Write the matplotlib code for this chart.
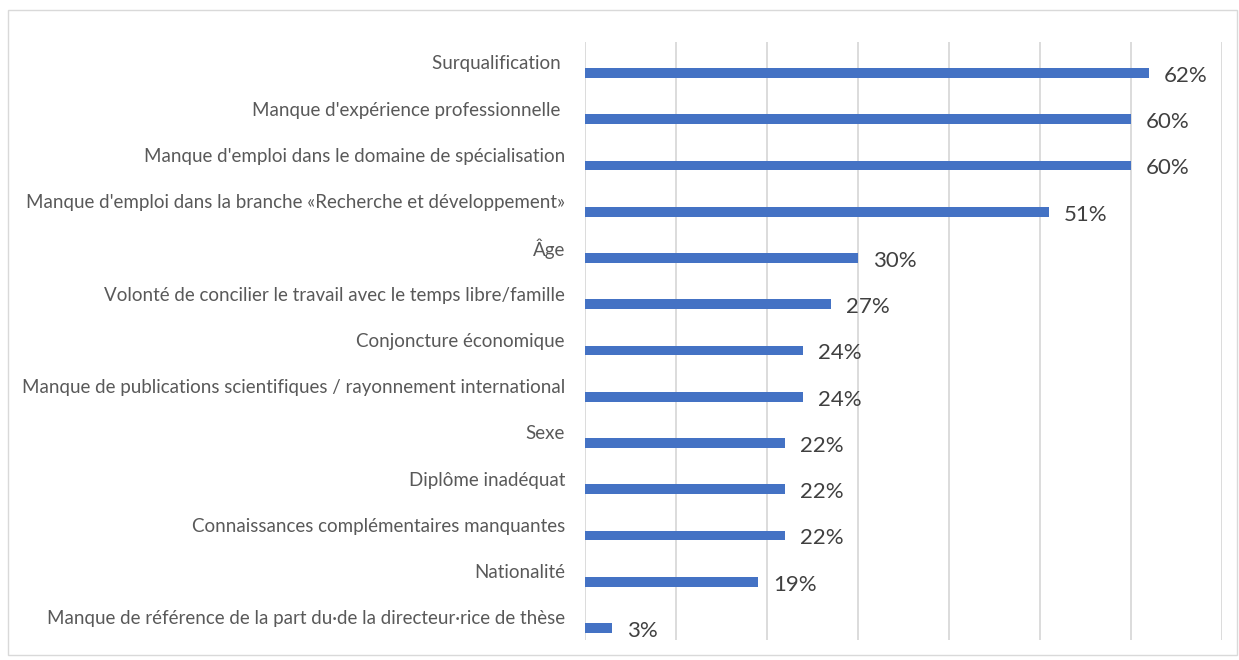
import matplotlib.pyplot as plt
import numpy as np
from matplotlib.patches import Rectangle

plt.rcParams['font.family'] = ['Lato', 'DejaVu Sans']

categories = [
    "Surqualification ",
    "Manque d'expérience professionnelle ",
    "Manque d'emploi dans le domaine de spécialisation",
    "Manque d'emploi dans la branche «Recherche et développement»",
    "Âge",
    "Volonté de concilier le travail avec le temps libre/famille",
    "Conjoncture économique",
    "Manque de publications scientifiques / rayonnement international",
    "Sexe",
    "Diplôme inadéquat",
    "Connaissances complémentaires manquantes",
    "Nationalité",
    "Manque de référence de la part du·de la directeur·rice de thèse",
]
values = [62, 60, 60, 51, 30, 27, 24, 24, 22, 22, 22, 19, 3]
x_ticks = [0, 10, 20, 30, 40, 50, 60, 70]

bar_color = "#4472C4"

fig = plt.figure(figsize=(12.39, 6.60), dpi=100)
ax = fig.add_axes([585 / 1239, 1 - 640 / 660, (1222 - 585) / 1239, (640 - 42) / 660])

# light frame around the whole chart
fig.patches.append(Rectangle((8 / 1239, 1 - 655 / 660), 1229 / 1239, 645 / 660,
                             transform=fig.transFigure, fill=False,
                             edgecolor="#D9D9D9", linewidth=1))

y = np.arange(len(categories))
ax.barh(y, values, height=0.21, color=bar_color, zorder=3)

ax.set_xlim(0, 70)
ax.set_ylim(len(categories) - 1 + 0.26, -0.67)
ax.set_xticks(x_ticks)
ax.xaxis.grid(True, color="#D9D9D9", linewidth=1.3)
ax.tick_params(left=False, bottom=False, labelbottom=False, labelleft=False)
for s in ax.spines.values():
    s.set_visible(False)

for i, (cat, v) in enumerate(zip(categories, values)):
    ax.annotate(cat, xy=(0, i), xycoords=("axes fraction", "data"),
                xytext=(-20, 9), textcoords="offset pixels",
                ha="right", va="center", fontsize=13.5, color="#595959")
    ax.annotate(f"{v}%", xy=(v, i), xytext=(15, -3), textcoords="offset pixels",
                ha="left", va="center", fontsize=16, color="#404040")

fig.savefig("out.png", dpi=100)
